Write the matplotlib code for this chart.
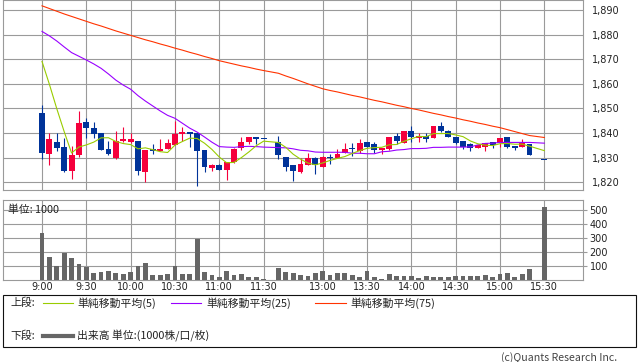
import matplotlib
matplotlib.use("Agg")
import matplotlib.pyplot as plt
from matplotlib.patches import Rectangle
from matplotlib.lines import Line2D
import numpy as np

# ---------------- data ----------------
times = ["9:00", "9:05", "9:10", "9:15", "9:20", "9:25", "9:30", "9:35", "9:40", "9:45",
         "9:50", "9:55", "10:00", "10:05", "10:10", "10:15", "10:20", "10:25", "10:30", "10:35",
         "10:40", "10:45", "10:50", "10:55", "11:00", "11:05", "11:10", "11:15", "11:20", "11:25",
         "11:30",
         "12:30", "12:35", "12:40", "12:45", "12:50", "12:55", "13:00", "13:05", "13:10", "13:15",
         "13:20", "13:25", "13:30", "13:35", "13:40", "13:45", "13:50", "13:55", "14:00", "14:05",
         "14:10", "14:15", "14:20", "14:25", "14:30", "14:35", "14:40", "14:45", "14:50", "14:55",
         "15:00", "15:05", "15:10", "15:15", "15:20", "15:30"]

opens = [1848.0, 1831.3, 1836.4, 1834.4, 1824.7, 1830.9, 1844.6, 1842.2, 1840.1, 1833.5,
         1830.0, 1836.6, 1836.2, 1836.9, 1824.3, 1833.6, 1832.9, 1833.6, 1835.2, 1839.8,
         1840.5, 1840.2, 1833.2, 1825.7, 1827.0, 1825.1, 1828.2, 1833.9, 1836.2, 1838.6,
         1837.6,
         1836.2, 1830.3, 1827.1, 1824.3, 1827.1, 1829.8, 1826.4, 1830.0, 1829.8, 1831.8,
         1833.6, 1832.8, 1836.4, 1835.5, 1833.1, 1833.6, 1838.9, 1836.0, 1840.9, 1838.2,
         1838.7, 1838.1, 1842.9, 1841.0, 1838.5, 1836.8, 1835.4, 1834.1, 1834.5, 1836.3,
         1835.8, 1838.4, 1834.9, 1834.2, 1835.4, 1828.9]
highs = [1851.5, 1840.1, 1840.1, 1838.2, 1834.8, 1849.1, 1846.2, 1844.6, 1840.2, 1836.6,
         1841.0, 1842.6, 1840.0, 1836.9, 1833.3, 1835.6, 1837.7, 1837.7, 1844.9, 1842.3,
         1840.5, 1840.2, 1833.2, 1827.6, 1827.4, 1828.2, 1834.0, 1838.6, 1838.6, 1838.6,
         1837.6,
         1839.0, 1830.3, 1827.1, 1829.8, 1832.1, 1830.2, 1830.5, 1831.5, 1833.5, 1835.9,
         1835.9, 1837.7, 1836.4, 1836.4, 1834.1, 1838.5, 1840.1, 1840.9, 1842.7, 1840.2,
         1840.1, 1842.9, 1844.4, 1841.4, 1838.5, 1836.8, 1836.1, 1835.3, 1835.8, 1836.3,
         1838.0, 1838.4, 1834.9, 1837.5, 1835.4, 1828.9]
lows = [1829.5, 1827.1, 1832.9, 1824.2, 1821.5, 1830.4, 1838.2, 1837.8, 1833.1, 1830.9,
        1829.6, 1836.5, 1836.0, 1823.1, 1820.1, 1831.7, 1832.9, 1833.5, 1835.0, 1836.6,
        1834.5, 1818.6, 1824.3, 1824.5, 1825.0, 1821.0, 1827.8, 1833.0, 1835.5, 1835.4,
        1837.6,
        1829.4, 1824.7, 1820.7, 1823.7, 1827.1, 1823.4, 1826.4, 1827.3, 1829.8, 1831.8,
        1830.8, 1831.8, 1834.5, 1832.1, 1831.6, 1833.0, 1835.6, 1835.8, 1836.3, 1836.5,
        1836.5, 1838.1, 1840.3, 1838.5, 1835.6, 1833.6, 1832.8, 1833.8, 1832.8, 1834.1,
        1834.5, 1834.1, 1833.1, 1834.2, 1831.0, 1828.9]
closes = [1832.1, 1837.7, 1834.1, 1824.6, 1831.1, 1844.2, 1841.9, 1839.8, 1833.3, 1831.3,
          1836.6, 1837.7, 1837.7, 1824.7, 1833.3, 1832.9, 1833.6, 1836.0, 1839.8, 1840.5,
          1839.8, 1832.9, 1826.4, 1827.2, 1825.0, 1828.2, 1833.6, 1836.2, 1838.6, 1837.6,
          1837.6,
          1830.9, 1826.4, 1824.6, 1827.5, 1829.8, 1827.1, 1830.3, 1829.8, 1831.6, 1833.5,
          1833.4, 1836.0, 1834.5, 1833.1, 1834.1, 1838.5, 1836.6, 1840.9, 1838.4, 1839.0,
          1837.7, 1842.9, 1841.0, 1838.5, 1836.1, 1834.2, 1834.1, 1835.3, 1835.8, 1835.2,
          1838.0, 1834.5, 1833.8, 1836.1, 1831.0, 1828.9]
volumes = [334, 163, 99, 192, 159, 114, 95, 50, 57, 64,
           50, 43, 57, 99, 121, 36, 36, 43, 99, 43,
           43, 294, 57, 36, 24, 64, 38, 45, 24, 24,
           5,
           87, 57, 50, 37, 25, 50, 64, 37, 50, 50,
           36, 24, 64, 21, 7, 43, 31, 31, 31, 14,
           28, 21, 21, 21, 28, 28, 28, 28, 36, 21,
           43, 50, 21, 43, 78, 517]
# closes of the last four 5-minute bars of the previous session (for the 5-bar average)
prev_closes = [1884.1, 1883.6, 1871.1, 1874.6]
ma25 = [1881.3, 1879.5, 1877.4, 1875.0, 1872.7, 1871.2, 1869.7, 1868.1, 1866.3, 1864.0,
        1861.5, 1859.5, 1857.8, 1855.2, 1853.0, 1851.0, 1849.0, 1847.2, 1846.0, 1844.0,
        1842.0, 1840.4, 1838.4, 1836.3, 1834.5, 1834.3, 1834.2, 1834.5, 1834.6, 1834.5,
        1834.3,
        1834.1, 1834.0, 1833.6, 1833.0, 1832.8, 1832.3, 1832.2, 1832.2, 1832.2, 1832.2,
        1831.8, 1831.8, 1831.6, 1831.6, 1832.4, 1832.6, 1833.1, 1833.3, 1833.7, 1833.7,
        1833.8, 1834.2, 1834.2, 1834.3, 1834.3, 1834.3, 1834.4, 1835.2, 1835.8, 1835.9,
        1836.2, 1836.2, 1836.2, 1836.2, 1836.2, 1835.9]
ma75 = [1891.7, 1890.6, 1889.5, 1888.4, 1887.4, 1886.4, 1885.4, 1884.4, 1883.5, 1882.5,
        1881.5, 1880.6, 1879.7, 1878.8, 1877.9, 1877.1, 1876.2, 1875.4, 1874.5, 1873.7,
        1872.8, 1872.0, 1871.1, 1870.3, 1869.4, 1868.7, 1868.0, 1867.3, 1866.7, 1866.0,
        1865.4,
        1864.3, 1863.2, 1862.2, 1861.1, 1860.0, 1859.0, 1858.0, 1857.3, 1856.7, 1856.0,
        1855.3, 1854.7, 1854.0, 1853.3, 1852.7, 1852.0, 1851.3, 1850.7, 1850.0, 1849.4,
        1848.7, 1848.0, 1847.4, 1846.7, 1846.1, 1845.4, 1844.8, 1844.1, 1843.5, 1842.8,
        1842.2, 1841.4, 1840.6, 1839.8, 1839.0, 1838.2]
tick_labels = ["9:00", "9:30", "10:00", "10:30", "11:00", "11:30",
               "13:00", "13:30", "14:00", "14:30", "15:00", "15:30"]
price_ticks = [1820, 1830, 1840, 1850, 1860, 1870, 1880, 1890]
volume_ticks = [100, 200, 300, 400, 500]

# ---------------- helpers ----------------
def slot(t):
    h, m = map(int, t.split(":"))
    mins = h * 60 + m
    if mins <= 11 * 60 + 30:
        return (mins - 540) / 5
    return (mins - 750) / 5 + 32   # one empty slot for the lunch break

W, H = 638, 362
def fx(x): return x / W
def fy(y): return 1 - y / H

x = np.array([slot(t) for t in times])
o = np.array(opens); h_ = np.array(highs); l_ = np.array(lows); c = np.array(closes)
allc = np.concatenate([prev_closes, c])
ma5 = np.convolve(allc, np.ones(5) / 5, mode="valid")

RED = "#F5003C"
BLUE = "#003399"
GRID = "#9a9a9a"
TXT = "#222222"
JP = ["Noto Sans CJK JP", "DejaVu Sans"]

fig = plt.figure(figsize=(W / 100, H / 100), dpi=100)
fig.patch.set_facecolor("white")

ax = fig.add_axes([fx(3.3), fy(190), fx(582.7) - fx(3.3), 190 / H])
axv = fig.add_axes([fx(3.3), fy(280), fx(582.7) - fx(3.3), 80 / H])

xlim = ((3.3 - 42) / 7.387, (582.7 - 42) / 7.387)
tick_pos = [slot(t) for t in tick_labels]

for a in (ax, axv):
    a.set_xlim(*xlim)
    a.set_facecolor("white")
    for s in a.spines.values():
        s.set_color(GRID)
        s.set_linewidth(0.8)
    a.set_xticks(tick_pos)
    a.grid(True, color=GRID, linewidth=0.8)
    a.set_axisbelow(True)
    a.yaxis.tick_right()

# ---- candles ----
up = c > o
cols = np.where(up, RED, BLUE)
ax.vlines(x, l_, h_, colors=cols, linewidth=0.8, zorder=3)
body_bottom = np.minimum(o, c)
body_h = np.maximum(np.abs(c - o), 0.45)
ax.bar(x, body_h, bottom=body_bottom, width=0.8, color=cols, linewidth=0, zorder=4)

ax.plot(x, ma75, color="#FF3300", linewidth=0.8, zorder=5)
ax.plot(x, ma25, color="#9900FF", linewidth=0.8, zorder=5)
ax.plot(x, ma5, color="#99CC00", linewidth=0.8, zorder=5)

ax.set_ylim(1820 - (190 - 182.3) / 2.461, 1890 + 10 / 2.461)
ax.set_yticks(price_ticks)
ax.set_yticklabels([f"{v:,}" for v in price_ticks])
ax.tick_params(axis="y", length=0, pad=7, labelsize=7, labelcolor=TXT)
ax.tick_params(axis="x", length=0, labelbottom=False)

# ---- volume ----
axv.bar(x, volumes, width=0.65, color="#666666", linewidth=0, zorder=3)
axv.set_ylim(0, 80 / 14.07 * 100)
axv.set_yticks(volume_ticks)
axv.set_yticklabels([str(v) for v in volume_ticks])
axv.tick_params(axis="y", length=3, width=0.8, color=GRID, pad=2, labelsize=7, labelcolor=TXT)
axv.set_xticklabels(tick_labels)
axv.tick_params(axis="x", length=0, pad=1.5, labelsize=7, labelcolor=TXT)
fig.text(fx(8.3), fy(210), "単位: 1000", fontsize=7.8, family=JP, color=TXT,
         ha="left", va="center")

# ---- legend box ----
fig.patches.append(Rectangle((fx(3), fy(346.7)), fx(635.5) - fx(3), (346.7 - 294.7) / H,
                             transform=fig.transFigure, fill=False,
                             edgecolor="#111111", linewidth=0.8))
row1, row2 = 303, 336
LFS = 7.8
fig.text(fx(10), fy(row1), "上段:", fontsize=LFS, family=JP, color=TXT, va="center")
fig.text(fx(10), fy(row2), "下段:", fontsize=LFS, family=JP, color=TXT, va="center")
legend_items = [("単純移動平均(5)", "#99CC00", 42.7, 73.2, 77),
                ("単純移動平均(25)", "#9900FF", 171, 201, 206),
                ("単純移動平均(75)", "#FF3300", 315, 346, 350)]
for label, col, x0, x1, tx in legend_items:
    fig.lines.append(Line2D([fx(x0), fx(x1)], [fy(row1), fy(row1)], color=col,
                            linewidth=0.8, transform=fig.transFigure))
    fig.text(fx(tx), fy(row1), label, fontsize=LFS, family=JP, color=TXT, va="center")
fig.lines.append(Line2D([fx(42.7), fx(73.2)], [fy(row2), fy(row2)], color="#666666",
                        linewidth=3, transform=fig.transFigure))
fig.text(fx(77), fy(row2), "出来高 単位:(1000株/口/枚)", fontsize=LFS, family=JP,
         color=TXT, va="center")
fig.text(fx(617.6), fy(357.5), "(c)Quants Research Inc.", fontsize=7.6, family=JP,
         color="#444444", ha="right", va="center")

fig.savefig("out.png", dpi=100)
